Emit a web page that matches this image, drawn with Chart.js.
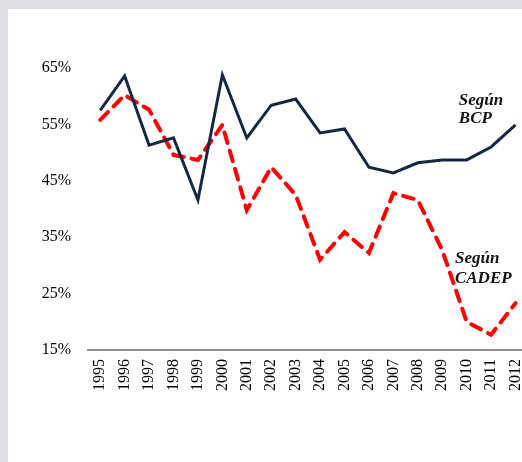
<!DOCTYPE html>
<html>
<head>
<meta charset="utf-8">
<script src="https://cdn.jsdelivr.net/npm/chart.js@4"></script>
<style>
  html, body { margin: 0; padding: 0; width: 522px; height: 462px; overflow: hidden; background: #dfdee3; }
  #panel { position: absolute; left: 8px; top: 9px; width: 560px; height: 460px; background: #ffffff; }
  #c { position: absolute; left: 0; top: 0; }
</style>
</head>
<body>
<div id="panel"><canvas id="c" width="536" height="453" style="width:536px;height:453px"></canvas></div>
<script>
const years = ["1995","1996","1997","1998","1999","2000","2001","2002","2003","2004","2005","2006","2007","2008","2009","2010","2011","2012"];
const bcp   = [57.5, 63.6, 51.3, 52.6, 41.6, 63.8, 52.6, 58.4, 59.5, 53.5, 54.2, 47.4, 46.4, 48.2, 48.7, 48.7, 51.0, 54.9];
const cadep = [55.8, 60.2, 57.6, 49.6, 48.7, 54.9, 39.8, 47.4, 42.5, 31.0, 35.9, 32.2, 42.8, 41.6, 32.7, 20.0, 17.7, 23.3];
const yTicks = [15, 25, 35, 45, 55, 65];
const notes = [
  { lines: ["Según", "BCP"], x: 14.68, y: [58.4, 55.3] },
  { lines: ["Según", "CADEP"], x: 14.52, y: [30.4, 26.9] }
];

const notePlugin = {
  id: 'notes',
  afterDatasetsDraw(chart) {
    const ctx = chart.ctx, xs = chart.scales.x, ys = chart.scales.y;
    ctx.save();
    ctx.fillStyle = '#111111';
    ctx.font = 'italic bold 17px "Liberation Serif", serif';
    ctx.textAlign = 'left';
    ctx.textBaseline = 'alphabetic';
    notes.forEach(n => {
      const px = xs.getPixelForValue(n.x);
      n.lines.forEach((t, i) => ctx.fillText(t, px, ys.getPixelForValue(n.y[i])));
    });
    ctx.restore();
  }
};

new Chart(document.getElementById('c'), {
  type: 'line',
  data: {
    labels: years,
    datasets: [
      { label: 'Según BCP', data: bcp, borderColor: '#142842', borderWidth: 3, pointRadius: 0, tension: 0, fill: false, clip: false, borderJoinStyle: 'miter' },
      { label: 'Según CADEP', data: cadep, borderColor: '#ff0000', borderWidth: 4, borderDash: [11, 8], borderCapStyle: 'round', pointRadius: 0, tension: 0, fill: false, clip: false }
    ]
  },
  options: {
    responsive: false,
    animation: false,
    devicePixelRatio: 1,
    layout: { padding: { left: 0, right: 10, top: 59, bottom: 0 } },
    plugins: { legend: { display: false }, tooltip: { enabled: false } },
    scales: {
      x: {
        offset: true,
        grid: { display: false, drawTicks: false },
        border: { display: true, color: '#8c8c8c', width: 2 },
        ticks: { color: '#000000', font: { family: '"Liberation Serif", serif', size: 16 }, minRotation: 90, maxRotation: 90, padding: 9, autoSkip: false },
        afterFit(s) { s.height = 112; }
      },
      y: {
        min: 15, max: 65,
        grid: { display: false, drawTicks: false },
        border: { display: false },
        afterBuildTicks(s) { s.ticks = yTicks.map(v => ({ value: v })); },
        ticks: { color: '#000000', font: { family: '"Liberation Serif", serif', size: 16 }, padding: 17, callback: v => v + '%' },
        afterFit(s) { s.width = 80; }
      }
    }
  },
  plugins: [notePlugin]
});
</script>
</body>
</html>
